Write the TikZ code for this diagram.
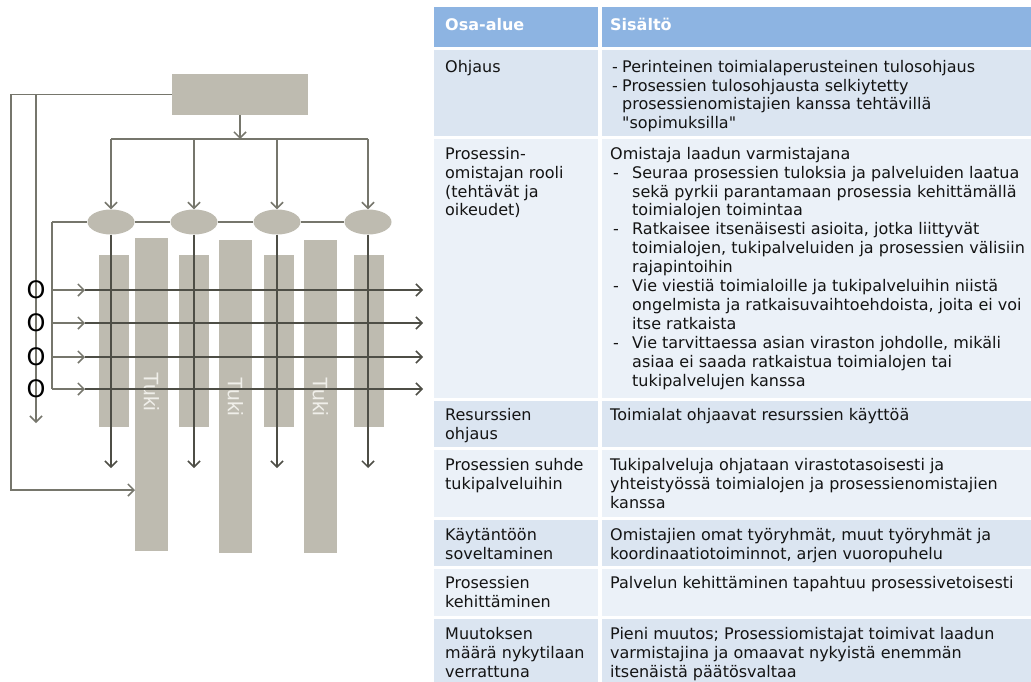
\documentclass[tikz,border=0pt]{standalone}
\usepackage{fontspec}
\setmainfont{DejaVu Sans}[Ligatures=TeXOff]
\newfontfamily\arialf{Liberation Sans}
\usetikzlibrary{arrows.meta,shapes.geometric}
\definecolor{barg}{RGB}{190,187,176}
\definecolor{lng}{RGB}{118,118,108}
\definecolor{lnd}{RGB}{78,78,70}
\definecolor{tukit}{RGB}{240,239,234}
\definecolor{hdr}{RGB}{141,180,226}
\definecolor{rowa}{RGB}{219,229,241}
\definecolor{rowb}{RGB}{235,241,248}
\definecolor{txt}{RGB}{20,20,20}
\begin{document}
\begin{tikzpicture}[x=1pt,y=-1pt,
  ln/.style={draw=lng, line width=1.5pt},
  lnk/.style={draw=lnd, line width=1.5pt},
  tip/.style={-{Straight Barb[length=6pt,width=12pt,line width=1.5pt]}},
  barnode/.style={fill=barg, draw=none, inner sep=0, anchor=north west},
  tuki/.style={font=\arialf\fontsize{21}{21}\selectfont, text=tukit, rotate=-90, inner sep=0},
  ring/.style={font=\fontsize{24}{24}\selectfont, text=black, inner sep=0},
  proc/.style={ellipse, fill=barg, draw=none, minimum width=47pt, minimum height=25pt, inner sep=0},
  cellbg/.style={draw=none, inner sep=0, anchor=north west},
  ctext/.style={anchor=north west, inner sep=0, yshift=13.23pt, align=left, text=txt, font=\fontsize{16}{18.9}\selectfont},
  htext/.style={ctext, text=white, font=\bfseries\fontsize{16}{18.9}\selectfont}
]
\useasboundingbox (0,0) rectangle (1031,682);
\fill[white] (0,0) rectangle (1031,682);

% ---------- left diagram: bars ----------
\node[barnode, minimum width=30pt, minimum height=172pt] (S1) at (99,255) {};
\node[barnode, minimum width=30pt, minimum height=172pt] (S2) at (179,255) {};
\node[barnode, minimum width=30pt, minimum height=172pt] (S3) at (264,255) {};
\node[barnode, minimum width=30pt, minimum height=172pt] (S4) at (354,255) {};
\node[barnode, minimum width=33pt, minimum height=313pt] (T1) at (135,238) {};
\node[barnode, minimum width=33pt, minimum height=313pt] (T2) at (219,240) {};
\node[barnode, minimum width=33pt, minimum height=313pt] (T3) at (304,240) {};
\node[tuki] (k1) at (151.5,392) {Tuki};
\node[tuki] (k2) at (235.5,397) {Tuki};
\node[tuki] (k3) at (320.5,397) {Tuki};

% ---------- top box and ellipses ----------
\node[fill=barg, draw=none, minimum width=136pt, minimum height=41pt, inner sep=0] (box) at (240,94.5) {};
\coordinate (hl) at (111,139);
\coordinate (hr) at (368,139);
\coordinate (lp) at (52,222);
\coordinate (lb) at (52,389);
\coordinate (bot) at (0,468);
\node[proc] (e1) at (111,222) {};
\node[proc] (e2) at (194,222) {};
\node[proc] (e3) at (277,222) {};
\node[proc] (e4) at (368,222) {};

\draw[ln,tip] (box.south) -- (box.south |- hl);
\draw[ln] (hl) -- (hr);
\foreach \i in {1,...,4} \draw[ln,tip] (e\i.north |- hl) -- (e\i.north);
\draw[ln] (lp) -- (e1.west);
\draw[ln] (e1.east) -- (e2.west);
\draw[ln] (e2.east) -- (e3.west);
\draw[ln] (e3.east) -- (e4.west);
\draw[ln] (lp) -- (lb);
\foreach \i in {1,...,4} \draw[lnk,tip] (e\i.south) -- (e\i.south |- bot);

% ---------- outer feedback lines ----------
\coordinate (ol1) at (11,94.5);
\coordinate (ol2) at (11,490);
\coordinate (il1) at (36,94.5);
\coordinate (il2) at (36,423);
\draw[ln,tip] (box.west) -- (ol1) -- (ol2) -- (T1.west |- ol2);
\draw[ln,tip] (il1) -- (il2);

% ---------- process rows ----------
\foreach \y [count=\k] in {290,323,357,389} {
  \coordinate (ra\k) at (52,\y);
  \coordinate (rm\k) at (85,\y);
  \coordinate (rz\k) at (423,\y);
  \draw[ln,tip] (ra\k) -- (rm\k);
  \draw[lnk,tip] (rm\k) -- (rz\k);
  \node[ring] (o\k) at (36,\y) {O};
}

% ---------- table backgrounds ----------
\node[cellbg, fill=hdr,  minimum width=164pt, minimum height=40pt]  (h1) at (434,7) {};
\node[cellbg, fill=hdr,  minimum width=429pt, minimum height=40pt]  (h2) at (602,7) {};
\node[cellbg, fill=rowa, minimum width=164pt, minimum height=86pt]  (a1) at (434,50) {};
\node[cellbg, fill=rowa, minimum width=429pt, minimum height=86pt]  (b1) at (602,50) {};
\node[cellbg, fill=rowb, minimum width=164pt, minimum height=259pt] (a2) at (434,139) {};
\node[cellbg, fill=rowb, minimum width=429pt, minimum height=259pt] (b2) at (602,139) {};
\node[cellbg, fill=rowa, minimum width=164pt, minimum height=46pt]  (a3) at (434,401) {};
\node[cellbg, fill=rowa, minimum width=429pt, minimum height=46pt]  (b3) at (602,401) {};
\node[cellbg, fill=rowb, minimum width=164pt, minimum height=67pt]  (a4) at (434,450) {};
\node[cellbg, fill=rowb, minimum width=429pt, minimum height=67pt]  (b4) at (602,450) {};
\node[cellbg, fill=rowa, minimum width=164pt, minimum height=46pt]  (a5) at (434,520) {};
\node[cellbg, fill=rowa, minimum width=429pt, minimum height=46pt]  (b5) at (602,520) {};
\node[cellbg, fill=rowb, minimum width=164pt, minimum height=47pt]  (a6) at (434,569) {};
\node[cellbg, fill=rowb, minimum width=429pt, minimum height=47pt]  (b6) at (602,569) {};
\node[cellbg, fill=rowa, minimum width=164pt, minimum height=63pt]  (a7) at (434,619) {};
\node[cellbg, fill=rowa, minimum width=429pt, minimum height=63pt]  (b7) at (602,619) {};

% ---------- table text ----------
\node[htext] (th1) at (445,30) {\strut Osa-alue};
\node[htext] (th2) at (610,30) {\strut Sisältö};

\node[ctext] (ta1) at (445,72) {\strut Ohjaus};
\node[ctext] (tb1) at (612,72) {\strut\makebox[10pt][l]{-}Perinteinen toimialaperusteinen tulosohjaus\\
\makebox[10pt][l]{-}Prosessien tulosohjausta selkiytetty\\
\makebox[10pt]{}prosessienomistajien kanssa tehtävillä\\
\makebox[10pt]{}"sopimuksilla"};

\node[ctext] (ta2) at (445,159) {\strut Prosessin-\\omistajan rooli\\(tehtävät ja\\oikeudet)};
\node[ctext] (tb2) at (610,159) {\strut Omistaja laadun varmistajana\\
\makebox[22pt][l]{\hspace{3pt}-}Seuraa prosessien tuloksia ja palveluiden laatua\\
\makebox[22pt]{}sekä pyrkii parantamaan prosessia kehittämällä\\
\makebox[22pt]{}toimialojen toimintaa\\
\makebox[22pt][l]{\hspace{3pt}-}Ratkaisee itsenäisesti asioita, jotka liittyvät\\
\makebox[22pt]{}toimialojen, tukipalveluiden ja prosessien välisiin\\
\makebox[22pt]{}rajapintoihin\\
\makebox[22pt][l]{\hspace{3pt}-}Vie viestiä toimialoille ja tukipalveluihin niistä\\
\makebox[22pt]{}ongelmista ja ratkaisuvaihtoehdoista, joita ei voi\\
\makebox[22pt]{}itse ratkaista\\
\makebox[22pt][l]{\hspace{3pt}-}Vie tarvittaessa asian viraston johdolle, mikäli\\
\makebox[22pt]{}asiaa ei saada ratkaistua toimialojen tai\\
\makebox[22pt]{}tukipalvelujen kanssa};

\node[ctext] (ta3) at (445,420) {\strut Resurssien\\ohjaus};
\node[ctext] (tb3) at (610,420) {\strut Toimialat ohjaavat resurssien käyttöä};

\node[ctext] (ta4) at (445,470) {\strut Prosessien suhde\\tukipalveluihin};
\node[ctext] (tb4) at (610,470) {\strut Tukipalveluja ohjataan virastotasoisesti ja\\yhteistyössä toimialojen ja prosessienomistajien\\kanssa};

\node[ctext] (ta5) at (445,540) {\strut Käytäntöön\\soveltaminen};
\node[ctext] (tb5) at (610,540) {\strut Omistajien omat työryhmät, muut työryhmät ja\\koordinaatiotoiminnot, arjen vuoropuhelu};

\node[ctext] (ta6) at (445,588) {\strut Prosessien\\kehittäminen};
\node[ctext] (tb6) at (610,588) {\strut Palvelun kehittäminen tapahtuu prosessivetoisesti};

\node[ctext] (ta7) at (445,639) {\strut Muutoksen\\määrä nykytilaan\\verrattuna};
\node[ctext] (tb7) at (610,639) {\strut Pieni muutos; Prosessiomistajat toimivat laadun\\varmistajina ja omaavat nykyistä enemmän\\itsenäistä päätösvaltaa};
\end{tikzpicture}
\end{document}
